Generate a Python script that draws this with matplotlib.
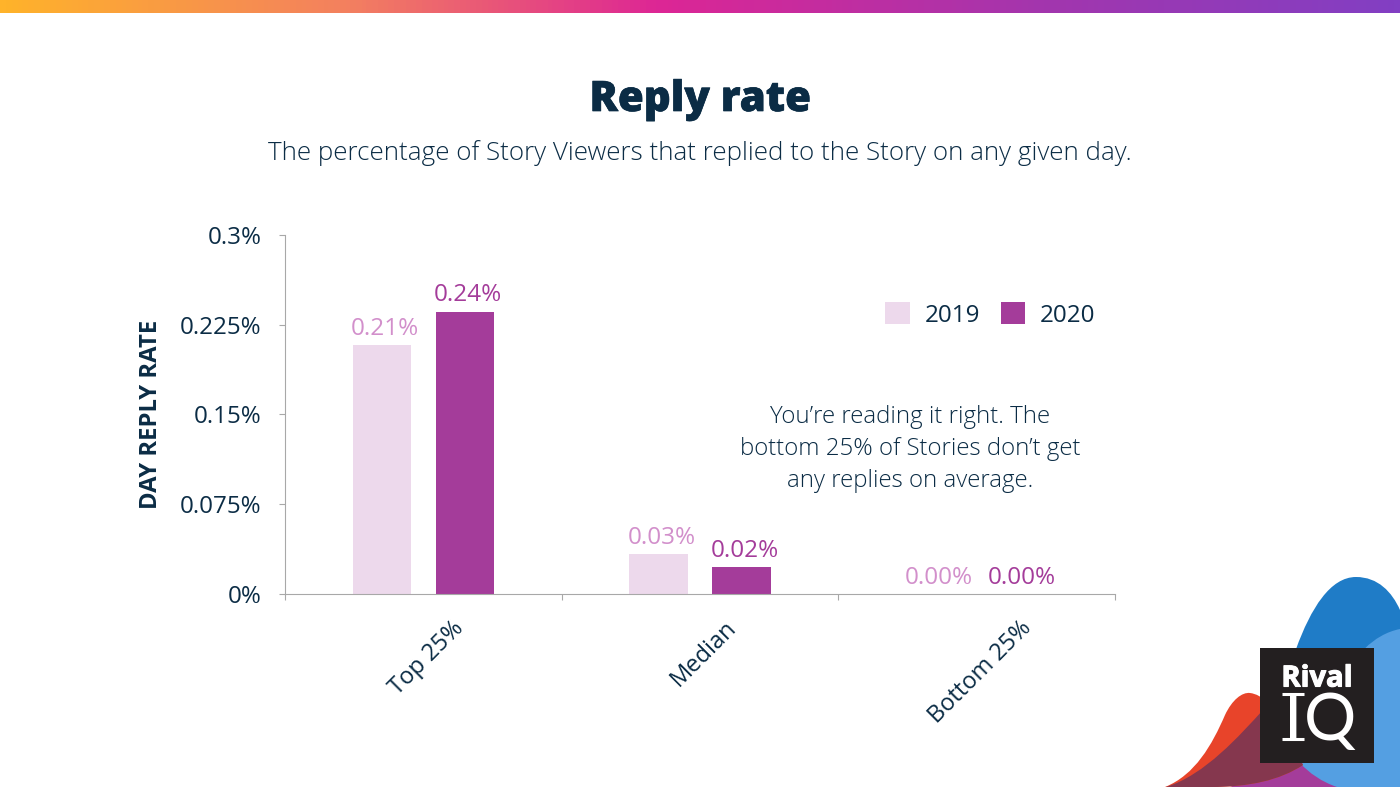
import matplotlib
matplotlib.use('Agg')
import matplotlib.pyplot as plt
import matplotlib.patheffects as pe
from matplotlib.colors import LinearSegmentedColormap
from matplotlib.patches import PathPatch, Rectangle
from matplotlib.path import Path
from matplotlib.transforms import ScaledTranslation
import numpy as np

plt.rcParams['font.family'] = ['Open Sans', 'DejaVu Sans']

# Chart values
categories = ['Top 25%', 'Median', 'Bottom 25%']
series_names = ['2019', '2020']
values_2019 = [0.208, 0.033, 0.0]
values_2020 = [0.236, 0.022, 0.0]
y_ticks = [0, 0.075, 0.15, 0.225, 0.3]
y_tick_labels = ['0%', '0.075%', '0.15%', '0.225%', '0.3%']

navy = '#0B2C45'
light_bar = '#EDD9EC'
dark_bar = '#A43C9A'
light_label = '#D28FCB'
grey = '#A8A8A8'

W, H = 1400, 787
fig = plt.figure(figsize=(14, 7.87), dpi=100, facecolor='white')

# Overlay in pixel coordinates for the slide decoration
bg = fig.add_axes([0, 0, 1, 1], zorder=0)
bg.set_xlim(0, W)
bg.set_ylim(H, 0)
bg.axis('off')

# Top gradient strip
cmap = LinearSegmentedColormap.from_list(
    'strip', [(0, '#FFB32A'), (0.25, '#F37F60'), (0.47, '#DD2695'), (0.75, '#A236AE'), (1, '#823FC3')])
bg.imshow(np.linspace(0, 1, 700).reshape(1, -1), cmap=cmap, aspect='auto', extent=(0, W, 13, 0))
bg.set_xlim(0, W)
bg.set_ylim(H, 0)


def blob(verts, color, z):
    codes = [Path.MOVETO] + [Path.CURVE4] * (len(verts) - 1)
    bg.add_patch(PathPatch(Path(verts, codes), facecolor=color, edgecolor='none', zorder=z))


# Corner shapes behind the logo
blob([(1262, 787), (1278, 700), (1305, 577), (1356, 577),
      (1378, 577), (1392, 592), (1400, 610),
      (1400, 670), (1400, 730), (1400, 787),
      (1350, 787), (1300, 787), (1262, 787)], '#1F7CC7', 2)
blob([(1230, 787), (1260, 775), (1285, 760), (1300, 745),
      (1320, 760), (1340, 775), (1360, 787),
      (1320, 787), (1270, 787), (1230, 787)], '#A43C9A', 3)
blob([(1300, 763), (1325, 720), (1345, 640), (1400, 629),
      (1400, 680), (1400, 740), (1400, 787),
      (1380, 787), (1355, 787), (1337, 787),
      (1322, 782), (1309, 773), (1300, 763)], '#549FE2', 4)
blob([(1165, 787), (1195, 775), (1212, 745), (1225, 715),
      (1232, 700), (1242, 692), (1250, 693),
      (1275, 696), (1290, 740), (1303, 765),
      (1280, 780), (1250, 787), (1210, 787),
      (1195, 787), (1180, 787), (1165, 787)], '#E8442A', 5)
blob([(1166, 787), (1205, 775), (1240, 735), (1263, 710),
      (1280, 715), (1292, 745), (1303, 765),
      (1280, 780), (1250, 787), (1210, 787),
      (1195, 787), (1180, 787), (1166, 787)], '#85374E', 6)

# Logo
bg.add_patch(Rectangle((1260, 648), 114, 115, facecolor='#231F20', edgecolor='none', zorder=7))
rival = bg.text(1317, 679, 'Rival', color='white', fontsize=21, fontweight='bold',
                ha='center', va='center', zorder=8)
rival.set_path_effects([pe.withStroke(linewidth=0.8, foreground='white')])
bg.text(1293, 740, 'I', color='white', fontsize=47, family=['Lato', 'DejaVu Sans'],
        ha='center', va='baseline', zorder=8)
bg.plot([1282, 1304], [694, 694], color='white', lw=2.2, solid_capstyle='butt', zorder=8)
bg.plot([1282, 1304], [739, 739], color='white', lw=2.2, solid_capstyle='butt', zorder=8)
bg.text(1330, 740, 'Q', color='white', fontsize=47, family=['Lato', 'DejaVu Sans'],
        ha='center', va='baseline', zorder=8)

# Title and subtitle
title = bg.text(700, 100, 'Reply rate', color=navy, fontsize=30.2, fontweight='heavy',
                ha='center', va='center')
title.set_path_effects([pe.withStroke(linewidth=0.5, foreground=navy)])
bg.text(700, 153, 'The percentage of Story Viewers that replied to the Story on any given day.',
        color=navy, fontsize=18.7, fontweight='light', ha='center', va='center')

# Annotation
bg.text(910.5, 449, 'You\u2019re reading it right. The\nbottom 25% of Stories don\u2019t get\nany replies on average.',
        color=navy, fontsize=17.3, fontweight='light', ha='center', va='center', linespacing=1.47)

# Main chart
ax = fig.add_axes([285 / W, 1 - 593.8 / H, 830 / W, 358.8 / H], zorder=1)
ax.patch.set_alpha(0)
x = np.arange(len(categories))
offset = 0.15
bar_width = 0.21
ax.bar(x - offset, values_2019, bar_width, color=light_bar, label=series_names[0])
ax.bar(x + offset, values_2020, bar_width, color=dark_bar, label=series_names[1])

for i in range(len(categories)):
    ax.annotate(f'{values_2019[i]:.2f}%', (x[i] - offset, values_2019[i]), xytext=(2.5, 3),
                textcoords='offset points', ha='center', va='bottom', color=light_label, fontsize=17.5)
    ax.annotate(f'{values_2020[i]:.2f}%', (x[i] + offset, values_2020[i]), xytext=(2.5, 3),
                textcoords='offset points', ha='center', va='bottom', color=dark_bar, fontsize=17.5)

ax.set_xlim(-0.5, 2.5)
ax.set_ylim(0, 0.3)
ax.set_yticks(y_ticks)
ax.set_yticklabels(y_tick_labels, fontsize=17.4, color=navy)
ax.set_xticks([-0.5, 0.5, 1.5, 2.5])
ax.set_xticklabels([])
ax.set_xticks(x, categories, minor=True)
ax.tick_params(axis='x', which='minor', length=0, pad=16, labelsize=17, labelcolor=navy)
for label in ax.get_xticklabels(minor=True):
    label.set_rotation(45)
    label.set_ha('center')
    label.set_va('top')
    label.set_transform(label.get_transform() + ScaledTranslation(2.5 / 72, 0, fig.dpi_scale_trans))
ax.tick_params(axis='both', which='major', length=4, width=0.8, color=grey, pad=13)
ax.tick_params(axis='x', which='major', direction='out', length=4)
for side in ['top', 'right']:
    ax.spines[side].set_visible(False)
for side in ['left', 'bottom']:
    ax.spines[side].set_color(grey)
    ax.spines[side].set_linewidth(0.8)

ax.set_ylabel('DAY REPLY RATE', fontsize=17.2, fontweight='bold', color=navy, labelpad=12)

handles, labels = ax.get_legend_handles_labels()
ax.legend(handles, labels, ncol=2, frameon=False, fontsize=17.4, labelcolor=navy,
          loc='center', bbox_to_anchor=((990.5 - 285) / 830, 1 - (315 - 235) / 358.8),
          handlelength=1, handleheight=1, handletextpad=0.62, columnspacing=0.87)

plt.savefig('out.png', dpi=100)
